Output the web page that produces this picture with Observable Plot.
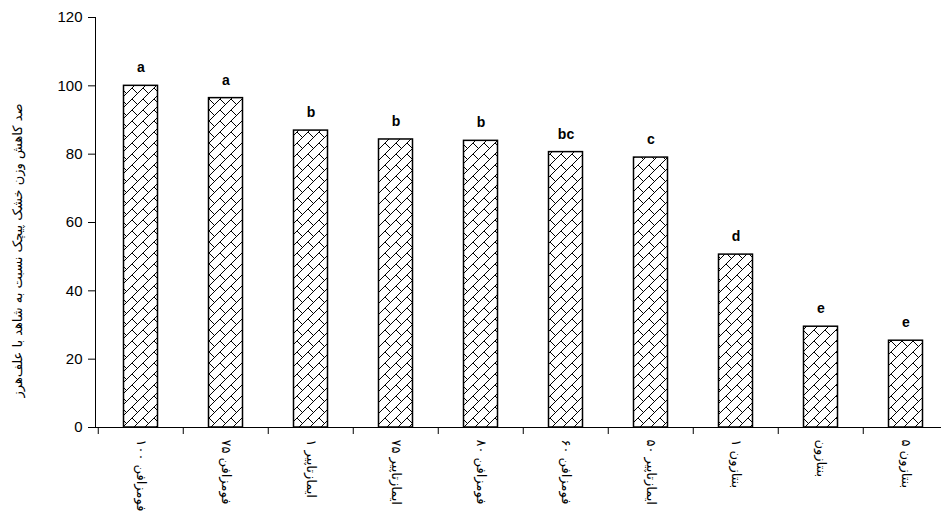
<!DOCTYPE html>
<html>
<head>
<meta charset="utf-8">
<script src="https://cdn.jsdelivr.net/npm/d3@7"></script>
<script src="https://cdn.jsdelivr.net/npm/@observablehq/plot@0.6"></script>
<style>
  html, body { margin: 0; padding: 0; background: #fff; }
  svg { display: block; }
</style>
</head>
<body>
<div id="chart"></div>
<script>
const categories = [
  "فومزافن ۱۰۰", "فومزافن ۷۵", "ایمازتاپیر ۱", "ایمازتاپیر ۷۵", "فومزافن ۸۰",
  "فومزافن ۶۰", "ایمازتاپیر ۵۰", "بنتازون ۱", "بنتازون", "بنتازون ۵"
];
const values = [100, 96.4, 86.9, 84.3, 83.9, 80.6, 79.0, 50.6, 29.5, 25.4];
const letters = ["a", "a", "b", "b", "b", "bc", "c", "d", "e", "e"];
const yTicks = [0, 20, 40, 60, 80, 100, 120];
const yLabel = "صد کاهش وزن خشک پیچک نسبت به شاهد با علف‌هرز";

const data = categories.map((c, i) => ({cat: c, value: values[i], letter: letters[i]}));

const plot = Plot.plot({
  width: 941,
  height: 519,
  marginTop: 17,
  marginBottom: 92,
  marginLeft: 95,
  marginRight: -9,
  style: {fontFamily: "Liberation Sans, Arial, sans-serif", background: "#fff", color: "#000"},
  x: {domain: categories, padding: 0, label: null},
  y: {domain: [0, 120], label: null},
  marks: [
    Plot.barY(data, {x: "cat", y: "value", fill: "white", stroke: "black", strokeWidth: 1.5, insetLeft: 25.5, insetRight: 25.5}),
    Plot.text(data, {x: "cat", y: "value", text: "letter", dy: -18, fontSize: 14, fontWeight: "bold", fill: "black"}),
    Plot.frame({anchor: "left", stroke: "black"}),
    Plot.frame({anchor: "bottom", stroke: "black"}),
    Plot.axisY({ticks: yTicks, tickSize: 7, tickPadding: 6, fontSize: 15, label: null}),
    Plot.ruleX(categories, {x: d => d, y1: 0, y2: -2.05, dx: -42.75, stroke: "black"}),
    Plot.axisX({tickSize: 0, tickRotate: 90, tickPadding: 12, fontSize: 13, label: null, fontFamily: "DejaVu Sans, sans-serif"}),
    Plot.text([yLabel], {frameAnchor: "left", textAnchor: "middle", dx: -78, dy: 28, rotate: -90, fontSize: 13, fill: "black", fontFamily: "DejaVu Sans, sans-serif"})
  ]
});

// brick-like crosshatch pattern
const ns = "http://www.w3.org/2000/svg";
const defs = document.createElementNS(ns, "defs");
defs.innerHTML = `
<pattern id="brick" patternUnits="userSpaceOnUse" width="11" height="11">
  <rect width="11" height="11" fill="white"/>
  <path d="M0,11 L11,0 M-1,1 L1,-1 M10,12 L12,10 M0,0 L5.5,5.5" stroke="black" stroke-width="1" fill="none"/>
</pattern>`;
plot.insertBefore(defs, plot.firstChild);
plot.querySelectorAll('g[aria-label="bar"] rect').forEach(r => r.setAttribute("fill", "url(#brick)"));

document.getElementById("chart").appendChild(plot);
</script>
</body>
</html>
